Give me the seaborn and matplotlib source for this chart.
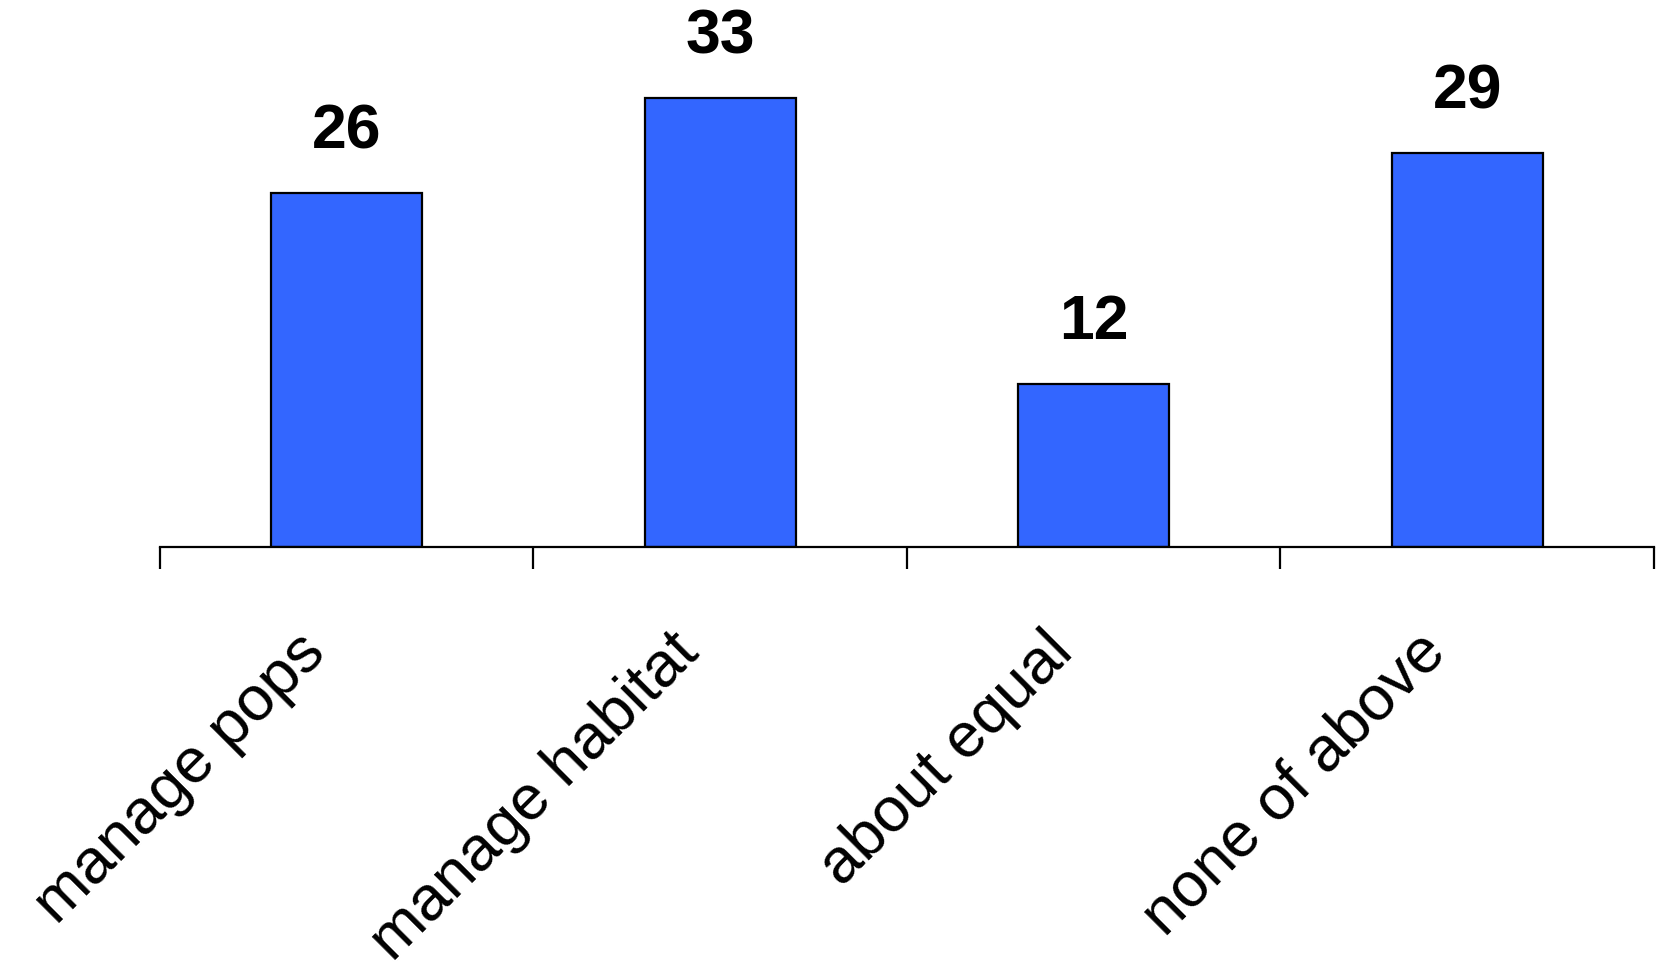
import matplotlib
matplotlib.use("Agg")
import matplotlib.pyplot as plt
import matplotlib.transforms as mtransforms
import seaborn as sns
import pandas as pd

categories = ["manage pops", "manage habitat", "about equal", "none of above"]
values = [26, 33, 12, 29]

sns.set_theme(style="white")
plt.rcParams["font.family"] = ["Liberation Sans", "DejaVu Sans"]

df = pd.DataFrame({"answer": categories, "count": values})

fig = plt.figure(figsize=(16.59, 9.77), dpi=100)
ax = fig.add_axes([0.0964, 0.44, 0.9006, 0.557])

sns.barplot(data=df, x="answer", y="count", color="#3366FF", width=0.405,
            edgecolor="black", linewidth=1.6, saturation=1, ax=ax)

ax.set_xlim(-0.5, len(categories) - 0.5)
ax.set_ylim(0, 40)
ax.set_xlabel("")
ax.set_ylabel("")

for side in ["left", "top", "right"]:
    ax.spines[side].set_visible(False)
ax.spines["bottom"].set_linewidth(1.6)
ax.spines["bottom"].set_color("black")
ax.set_yticks([])

# boundary ticks between categories, labels at category centres
ax.set_xticks([i - 0.5 for i in range(len(categories) + 1)])
ax.set_xticklabels([])
ax.tick_params(axis="x", which="major", length=15.5, width=1.6, color="black",
               direction="out", bottom=True)
ax.set_xticks(range(len(categories)), minor=True)
ax.set_xticklabels(categories, minor=True, rotation=45, ha="right", va="top",
                   rotation_mode="anchor", fontsize=45.5, color="black")
ax.tick_params(axis="x", which="minor", length=0, pad=54)
shift = mtransforms.ScaledTranslation(-37 / 72, 0, fig.dpi_scale_trans)
for lab in ax.get_xticklabels(minor=True):
    lab.set_transform(lab.get_transform() + shift)

for i, v in enumerate(values):
    ax.annotate(str(v), xy=(i, v), xytext=(0, 32), textcoords="offset points",
                ha="center", va="baseline", fontsize=45, fontweight="bold",
                color="black", annotation_clip=False)

fig.savefig("out.png", dpi=100)
